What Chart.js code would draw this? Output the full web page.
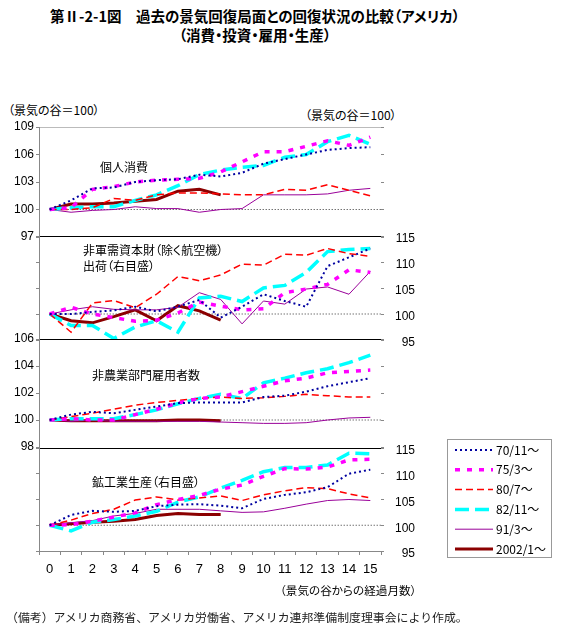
<!DOCTYPE html>
<html lang="ja">
<head>
<meta charset="utf-8">
<script src="https://cdn.jsdelivr.net/npm/chart.js@4/dist/chart.umd.min.js"></script>
<style>
  body { margin: 0; background: #fff; width: 565px; height: 638px; position: relative; overflow: hidden;
         font-family: "Noto Sans CJK JP", sans-serif; color: #000; }
  .t { position: absolute; white-space: nowrap; line-height: 1; font-feature-settings: "palt"; }
  canvas { position: absolute; left: 0; }
  #legend { position: absolute; left: 447px; top: 439px; width: 105px; height: 119px; border: 1px solid #999; box-sizing: border-box; }
</style>
</head>
<body>
<div class="t" style="left:0;width:510px;text-align:center;top:9px;font-size:14.5px;font-weight:bold;">第Ⅱ-2-1図　過去の景気回復局面との回復状況の比較（アメリカ）</div>
<div class="t" style="left:0;width:510px;text-align:center;top:28px;font-size:14.5px;font-weight:bold;">（消費・投資・雇用・生産）</div>
<div class="t" style="left:8px;top:104px;font-size:12px;">（景気の谷＝100）</div>
<div class="t" style="left:305px;top:109px;font-size:12px;">（景気の谷＝100）</div>

<canvas id="c1" width="565" height="130" style="top:117px;width:565px;height:130px"></canvas>
<canvas id="c2" width="565" height="124" style="top:226px;width:565px;height:124px"></canvas>
<canvas id="c3" width="565" height="128" style="top:329px;width:565px;height:128px"></canvas>
<canvas id="c4" width="565" height="143" style="top:438px;width:565px;height:143px"></canvas>

<div class="t" style="left:100px;top:161px;font-size:12px;">個人消費</div>
<div class="t" style="left:83px;top:244px;font-size:12px;">非軍需資本財（除く航空機）</div>
<div class="t" style="left:83px;top:260px;font-size:12px;">出荷（右目盛）</div>
<div class="t" style="left:92px;top:369px;font-size:12px;">非農業部門雇用者数</div>
<div class="t" style="left:92px;top:476px;font-size:12px;">鉱工業生産（右目盛）</div>

<div id="legend"></div>

<div class="t" style="left:280px;top:585px;font-size:11.6px;">（景気の谷からの経過月数）</div>
<div class="t" style="left:6px;top:611px;font-size:11.9px;color:#222;font-feature-settings:normal;">（備考）アメリカ商務省、アメリカ労働省、アメリカ連邦準備制度理事会により作成。</div>

<script>
// 景気の谷からの経過月数
const months = ['0','1','2','3','4','5','6','7','8','9','10','11','12','13','14','15'];
const seriesNames = ['70/11～','75/3～','80/7～','82/11～','91/3～','2002/1～'];
const baseValue = 100;

// 個人消費
const cons70 = [100, 101.0, 102.3, 102.4, 103.0, 103.2, 103.3, 103.8, 103.6, 104.0, 105.0, 105.5, 106.0, 106.5, 106.7, 106.8];
const cons75 = [100, 100.2, 102.2, 102.5, 103.0, 103.2, 103.3, 103.4, 104.1, 105.2, 106.3, 106.3, 106.9, 107.5, 107.0, 107.9];
const cons80 = [100, 100.0, 100.2, 101.2, 101.0, 101.6, 101.8, 101.8, 101.7, 101.6, 101.6, 102.2, 102.1, 102.7, 102.1, 101.5];
const cons82 = [100, 100.2, 100.3, 100.3, 101.0, 101.6, 102.6, 103.8, 104.3, 104.6, 104.8, 105.7, 106.0, 107.4, 108.1, 107.1];
const cons91 = [100, 99.7, 99.9, 100.0, 100.3, 100.1, 100.1, 99.7, 100.0, 100.1, 101.6, 101.6, 101.6, 101.7, 102.1, 102.3];
const cons02 = [100, 100.6, 100.6, 100.7, 100.9, 101.1, 102.0, 102.2, 101.6];

// 非軍需資本財（除く航空機）出荷（右目盛）
const cap70 = [100, 100.0, 100.4, 100.7, 101.4, 100.5, 101.4, 102.7, 99.3, 101.4, 103.8, 102.5, 101.4, 109.2, 110.9, 112.6];
const cap75 = [100, 101.3, 100.0, 99.3, 98.6, 98.8, 100.2, 102.3, 101.5, 100.8, 101.0, 104.1, 104.8, 105.7, 108.5, 108.0];
const cap80 = [100, 96.5, 102.1, 102.6, 101.2, 103.8, 107.2, 106.4, 107.5, 109.6, 109.4, 111.5, 111.3, 112.6, 111.6, 111.1];
const cap82 = [100, 97.8, 97.8, 95.3, 97.5, 98.7, 96.5, 103.1, 103.4, 102.4, 105.0, 105.5, 108.0, 112.0, 112.4, 112.6];
const cap91 = [100, 100.8, 101.4, 100.9, 100.8, 100.8, 101.3, 104.1, 102.8, 98.1, 102.5, 101.9, 104.8, 105.2, 103.8, 108.2];
const cap02 = [100, 98.7, 98.3, 99.5, 100.8, 98.7, 101.6, 100.6, 98.8];

// 非農業部門雇用者数
const emp70 = [100, 100.4, 100.6, 100.5, 100.75, 101.0, 101.25, 101.3, 101.3, 101.3, 101.7, 101.8, 102.1, 102.5, 102.8, 103.1];
const emp75 = [100, 100.1, 100.0, 100.0, 100.4, 100.8, 101.25, 101.6, 101.7, 102.1, 102.5, 102.9, 103.1, 103.5, 103.6, 103.7];
const emp80 = [100, 100.25, 100.5, 100.8, 101.1, 101.3, 101.45, 101.6, 101.7, 101.6, 101.65, 101.75, 101.9, 101.8, 101.7, 101.7];
const emp82 = [100, 100.1, 100.1, 100.1, 100.4, 100.75, 101.2, 101.6, 101.9, 101.6, 102.75, 103.1, 103.5, 103.8, 104.25, 104.8];
const emp91 = [100, 99.9, 100.0, 99.9, 99.9, 99.9, 99.9, 99.9, 99.85, 99.8, 99.75, 99.75, 99.8, 100.0, 100.15, 100.2];
const emp02 = [100, 99.95, 99.95, 99.95, 99.95, 99.95, 100.0, 100.0, 99.95];

// 鉱工業生産（右目盛）
const prod70 = [100, 102.0, 102.8, 102.6, 102.8, 103.7, 104.0, 104.1, 103.8, 103.3, 105.1, 105.9, 106.4, 107.4, 110.0, 110.8];
const prod75 = [100, 100.1, 100.8, 101.6, 102.4, 104.0, 105.0, 105.8, 107.0, 107.8, 109.5, 111.0, 110.9, 111.3, 112.7, 112.8];
const prod80 = [100, 101.0, 102.3, 103.1, 104.9, 105.5, 104.9, 105.3, 105.7, 104.8, 105.9, 106.7, 107.3, 107.1, 106.1, 105.3];
const prod82 = [100, 98.9, 100.6, 101.1, 101.8, 102.7, 104.5, 105.5, 107.2, 108.7, 110.4, 111.2, 111.2, 111.7, 114.0, 113.9];
const prod91 = [100, 100.5, 100.9, 101.8, 102.3, 103.1, 103.1, 103.1, 102.8, 102.5, 102.6, 103.3, 104.1, 104.8, 105.0, 104.8];
const prod02 = [100, 100.3, 100.6, 100.8, 101.1, 101.9, 102.3, 102.1, 102.1];

// 目盛（最小, 最大, 間隔）
const consRange = [97, 109, 3];
const capRange = [95, 115, 5];
const empRange = [98, 106, 2];
const prodRange = [95, 115, 5];

// 線のスタイル
const lineColors = ['#0000a0', '#ff00ff', '#ff0000', '#00ffff', '#990099', '#8b0000'];
const lineWidths = [2, 3.5, 1.5, 3.5, 1, 3];
const lineDashes = [[2, 3], [5, 7], [7, 4], [14, 6], [], []];

const numFont = { family: '"Liberation Sans", Arial, sans-serif', size: 12 };

// 景気の谷（100）の点線
const baseLine = {
  id: 'baseLine',
  beforeDatasetsDraw(chart, args, opts) {
    const y = chart.scales[opts.axis].getPixelForValue(baseValue);
    const x0 = chart.scales.x.getPixelForValue(0);
    const ctx = chart.ctx;
    ctx.save();
    ctx.strokeStyle = '#333';
    ctx.lineWidth = 1;
    ctx.setLineDash([1, 2]);
    ctx.beginPath();
    ctx.moveTo(x0, y);
    ctx.lineTo(chart.chartArea.right, y);
    ctx.stroke();
    ctx.restore();
  }
};

function yAxis(position, labelled, range, topColor) {
  const [min, max, step] = range;
  return {
    position: position,
    min: min,
    max: max,
    ticks: {
      stepSize: step,
      display: labelled,
      padding: 2,
      labelOffset: position === 'left' ? 0 : 3,
      crossAlign: position === 'right' ? 'far' : 'near',
      color: '#000',
      font: numFont
    },
    grid: {
      drawOnChartArea: position === 'left',
      color: c => (c.tick && c.tick.value === max) ? topColor : 'rgba(0,0,0,0)',
      tickLength: 3,
      tickColor: '#888'
    },
    border: { display: position === 'left', color: '#888' },
    afterFit: s => { s.width = position === 'left' ? 39 : 34; }
  };
}

function makePanel(id, side, range, series, topColor, showX) {
  const axis = side === 'left' ? 'yL' : 'yR';
  return new Chart(document.getElementById(id), {
    type: 'line',
    data: {
      labels: months,
      datasets: series.map((d, i) => ({
        label: seriesNames[i],
        data: d,
        yAxisID: axis,
        borderColor: lineColors[i],
        borderWidth: lineWidths[i],
        borderDash: lineDashes[i],
        borderCapStyle: 'butt',
        pointRadius: 0,
        tension: 0,
        fill: false
      }))
    },
    options: {
      responsive: false,
      animation: false,
      events: [],
      layout: { padding: { top: 10, bottom: showX ? 0 : 10, left: 0, right: 150 } },
      plugins: {
        legend: { display: false },
        tooltip: { enabled: false },
        baseLine: { axis: axis }
      },
      scales: {
        x: {
          display: showX,
          offset: true,
          grid: { offset: true, drawOnChartArea: false, tickLength: 4, color: '#888' },
          border: { color: '#888' },
          ticks: { padding: 7, color: '#000', font: { family: numFont.family, size: 13 }, maxRotation: 0, autoSkip: false },
          afterFit: s => { s.height = showX ? 30 : 0; }
        },
        yL: yAxis('left', side === 'left', range, topColor),
        yR: yAxis('right', side === 'right', range, topColor)
      }
    },
    plugins: [baseLine]
  });
}

makePanel('c1', 'left', consRange, [cons70, cons75, cons80, cons82, cons91, cons02], '#bbb', false);
makePanel('c2', 'right', capRange, [cap70, cap75, cap80, cap82, cap91, cap02], '#000', false);
makePanel('c3', 'left', empRange, [emp70, emp75, emp80, emp82, emp91, emp02], '#000', false);
makePanel('c4', 'right', prodRange, [prod70, prod75, prod80, prod82, prod91, prod02], '#000', true);

// 凡例
const legend = document.getElementById('legend');
let svg = '<svg width="105" height="119" xmlns="http://www.w3.org/2000/svg">';
seriesNames.forEach((name, i) => {
  const y = 10 + i * 19.8;
  svg += `<line x1="7" x2="45" y1="${y}" y2="${y}" stroke="${lineColors[i]}" stroke-width="${lineWidths[i]}"` +
         (lineDashes[i].length ? ` stroke-dasharray="${lineDashes[i].join(',')}"` : '') + '/>';
  svg += `<text x="48" y="${y + 4.5}" font-size="12" font-family="Noto Sans CJK JP" style="font-feature-settings:'palt'">${name}</text>`;
});
svg += '</svg>';
legend.innerHTML = svg;
</script>
</body>
</html>
